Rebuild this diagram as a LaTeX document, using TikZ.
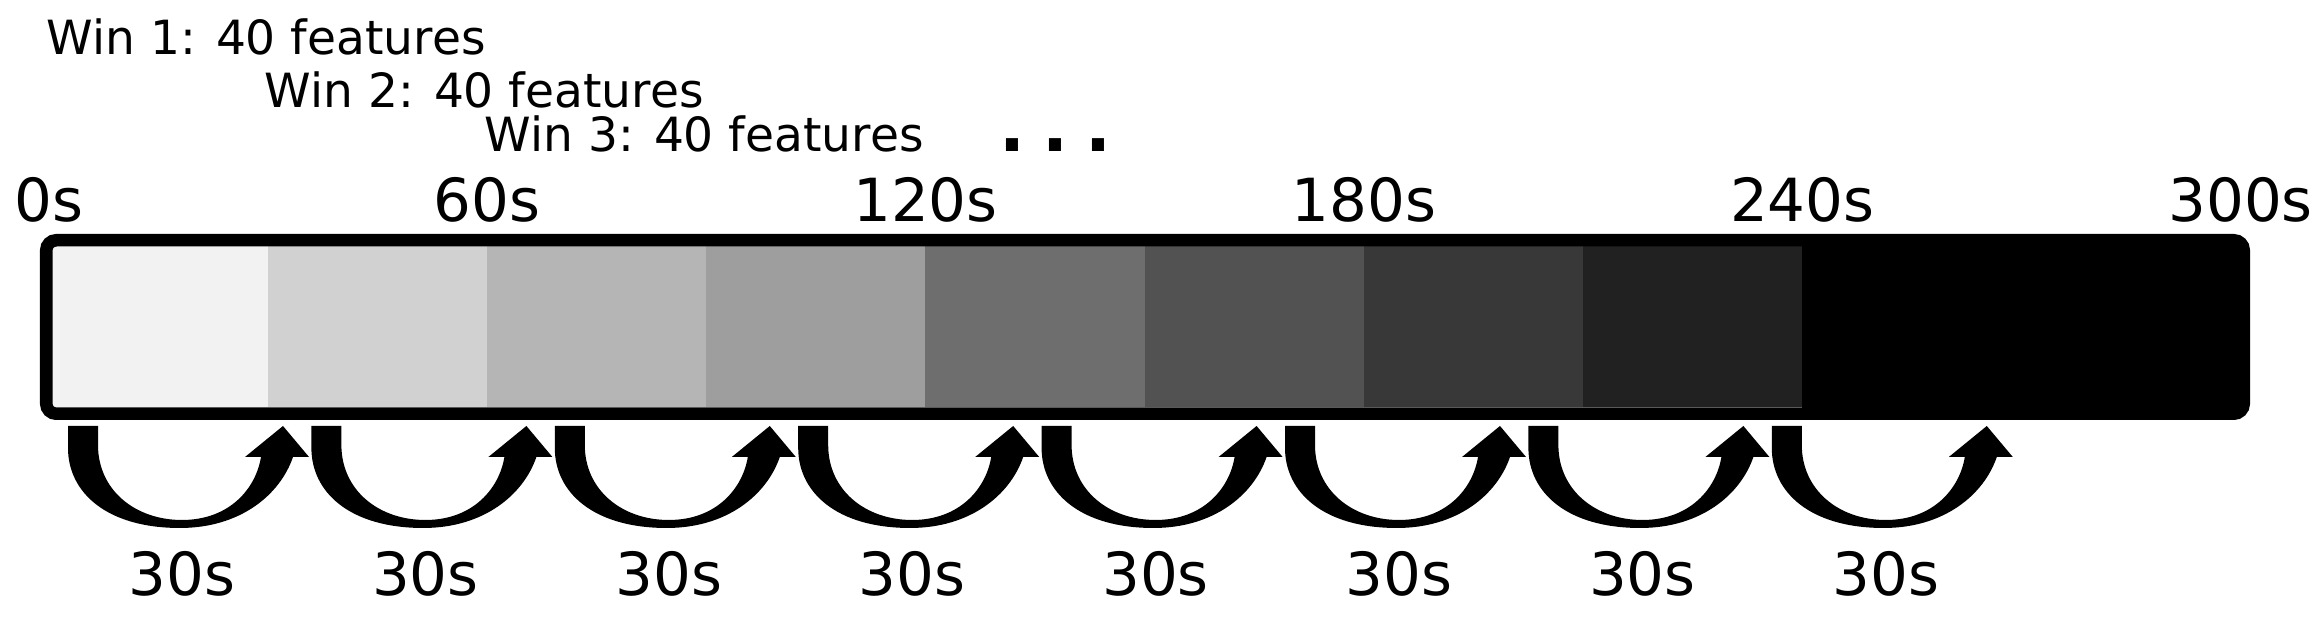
\documentclass[tikz,border=0pt]{standalone}
\usepackage{fontspec}
\setmainfont{DejaVu Sans}
\usepackage{tikz}
\usetikzlibrary{calc}

\tikzset{
  winlabel/.style={anchor=base west, inner sep=0pt, font=\fontsize{13.4}{16}\selectfont},
  dotslabel/.style={anchor=base west, inner sep=0pt, font=\fontsize{19.4}{22}\selectfont\bfseries},
  timelabel/.style={anchor=base, inner sep=0pt, font=\fontsize{16.9}{20}\selectfont},
}

\begin{document}
\begin{tikzpicture}[x=0.01cm,y=0.01cm]
    \useasboundingbox (0,0) rectangle (2317,619);

    % windows
    \node [winlabel] (win1) at (46,564) {Win 1: 40 features};
    \node [winlabel] (win2) at (264,511) {Win 2: 40 features};
    \node [winlabel] (win3) at (484,467) {Win 3: 40 features};
    \node [dotslabel] (more) at (999,467) {.\kern0.17cm.\kern0.17cm.};

    % time bar
    \foreach \i/\shade in {0/5,1/18,2/29,3/38,4/57,5/68,6/78,7/87}
    {
      \fill [black!\shade] ({48.6+219.2*\i},212) rectangle ++(219.2,161);
    }
    \fill (1802,205) rectangle (2244,379);
    \draw [line width=1.25mm, rounded corners=1mm] (46.25,205.25) rectangle (2243.75,378.75);

    \node [timelabel] (t0) at (48.6,397) {0s};
    \foreach \t [count=\i] in {60,120,180,240,300}
    {
      \node [timelabel] (t\t) at ({48.6+438.4*\i},397) {\t s};
    }

    % hops of 30s
    \foreach \i in {0,...,7}
    {
      \begin{scope}[shift={({68+243.4*\i},193)}]
        \fill (0,0) -- (0,-22) .. controls (0,-66) and (38,-102) .. (112,-102)
          .. controls (172,-102) and (212,-69) .. (225,-31) -- (241,-31) -- (215,0)
          -- (177,-31) -- (193,-31) .. controls (188,-62) and (162,-94) .. (114,-94)
          .. controls (67,-94) and (30,-64) .. (30,-19) -- (30,0) -- cycle;
      \end{scope}
      \node [timelabel] (hop\i) at ({182+243.4*\i},23) {30s};
    }
\end{tikzpicture}
\end{document}
